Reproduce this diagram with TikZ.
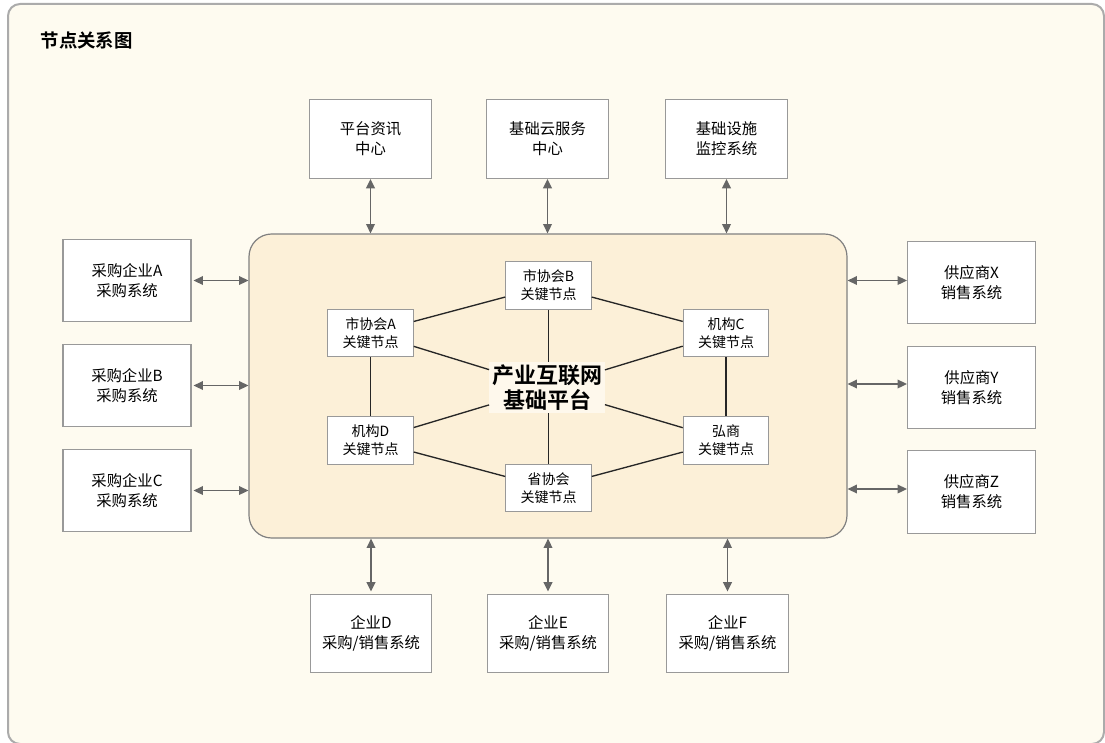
\documentclass[tikz,border=0pt]{standalone}
\usepackage{fontspec}
\usepackage{xcolor}
\usetikzlibrary{arrows.meta}
\newfontfamily\cjk{Noto Sans CJK SC}[BoldFont={Noto Sans CJK SC Bold}]
\definecolor{framebg}{HTML}{FEFBF0}
\definecolor{frameline}{HTML}{ABABAB}
\definecolor{platbg}{HTML}{FCF0D8}
\definecolor{platline}{HTML}{808080}
\definecolor{boxline}{HTML}{999999}
\definecolor{arrowgray}{HTML}{666666}
\definecolor{centerbg}{HTML}{FEF8EC}

\begin{document}
\begin{tikzpicture}[x=0.75pt,y=-0.75pt,
	outbox/.style={draw=boxline,fill=white,line width=0.9pt,minimum width=91pt,minimum height=59pt,align=center,font=\cjk\fontsize{11.5}{15}\selectfont},
	sidebox/.style={outbox,minimum width=96pt,minimum height=62pt},
	keybox/.style={draw=boxline,fill=white,line width=0.9pt,minimum width=64pt,minimum height=35.5pt,inner sep=1pt,align=center,font=\cjk\fontsize{10.5}{13.5}\selectfont},
	biarrow/.style={{Triangle[length=7pt,width=6.5pt]}-{Triangle[length=7pt,width=6.5pt]},draw=arrowgray,fill=arrowgray,line width=1.2pt},
	link/.style={draw=black!85,line width=1pt}]
	\useasboundingbox (0,0) rectangle (1105,742);
	\draw[fill=framebg,draw=frameline,line width=1.5pt,rounded corners=9pt] (8,4) rectangle (1104,744);
	\node[anchor=west,font=\cjk\fontsize{13.8}{16}\selectfont\bfseries] (title) at (36,40) {节点关系图};
	% platform
	\node[draw=platline,fill=platbg,line width=0.9pt,rounded corners=17pt,minimum width=448.5pt,minimum height=228pt] (plat) at (548,386) {};
	% top
	\node[outbox] (zixun) at (370.5,139) {平台资讯\\中心};
	\node[outbox] (yunfw) at (547.5,139) {基础云服务\\中心};
	\node[outbox] (jiankong) at (726.5,139) {基础设施\\监控系统};
	% left
	\node[sidebox] (cga) at (127,280.5) {采购企业A\\采购系统};
	\node[sidebox] (cgb) at (127,385.5) {采购企业B\\采购系统};
	\node[sidebox] (cgc) at (127,490.5) {采购企业C\\采购系统};
	% right
	\node[sidebox] (gysx) at (971.5,282.5) {供应商X\\销售系统};
	\node[sidebox] (gysy) at (971.5,387.5) {供应商Y\\销售系统};
	\node[sidebox] (gysz) at (971.5,492) {供应商Z\\销售系统};
	% bottom
	\node[outbox] (qyd) at (371,633.5) {企业D\\采购/销售系统};
	\node[outbox] (qye) at (548,633.5) {企业E\\采购/销售系统};
	\node[outbox] (qyf) at (727.5,633.5) {企业F\\采购/销售系统};
	% key nodes
	\node[fill=centerbg,inner sep=2pt,align=center,font=\cjk\fontsize{16.5}{18.5}\selectfont\bfseries] (pingtai) at (547,387.5) {产业互联网\\基础平台};
	\node[keybox] (sxb) at (548.5,285.5) {市协会B\\关键节点};
	\node[keybox] (sxa) at (370.5,333) {市协会A\\关键节点};
	\node[keybox] (jgc) at (726,333) {机构C\\关键节点};
	\node[keybox] (jgd) at (370.5,440.5) {机构D\\关键节点};
	\node[keybox] (hongs) at (726,440.5) {弘商\\关键节点};
	\node[keybox] (sxh) at (548.5,488) {省协会\\关键节点};
	\draw[link] (sxa) -- (sxb);
	\draw[link] (sxb) -- (jgc);
	\draw[link] (jgc) -- (hongs);
	\draw[link] (hongs) -- (sxh);
	\draw[link] (sxh) -- (jgd);
	\draw[link] (jgd) -- (sxa);
	\draw[link] (sxa) -- (pingtai);
	\draw[link] (sxb) -- (sxb |- pingtai.north);
	\draw[link] (jgc) -- (pingtai);
	\draw[link] (hongs) -- (pingtai);
	\draw[link] (sxh) -- (sxh |- pingtai.south);
	\draw[link] (jgd) -- (pingtai);
	% arrows
	\draw[biarrow] (zixun) -- (zixun |- plat.north);
	\draw[biarrow] (yunfw) -- (yunfw |- plat.north);
	\draw[biarrow] (jiankong) -- (jiankong |- plat.north);
	\draw[biarrow,shorten <=1.5pt] (cga) -- (cga -| plat.west);
	\draw[biarrow,shorten <=1.5pt] (cgb) -- (cgb -| plat.west);
	\draw[biarrow,shorten <=1.5pt] (cgc) -- (cgc -| plat.west);
	\draw[biarrow] (gysx.west |- cga) -- (plat.east |- cga);
	\draw[biarrow] (gysy.west |- 0,384) -- (plat.east |- 0,384);
	\draw[biarrow] (gysz.west |- 0,489) -- (plat.east |- 0,489);
	\draw[biarrow,shorten >=1.5pt] (plat.south -| qyd) -- (qyd);
	\draw[biarrow,shorten >=1.5pt] (plat.south -| qye) -- (qye);
	\draw[biarrow,shorten >=1.5pt] (plat.south -| qyf) -- (qyf);
\end{tikzpicture}
\end{document}
